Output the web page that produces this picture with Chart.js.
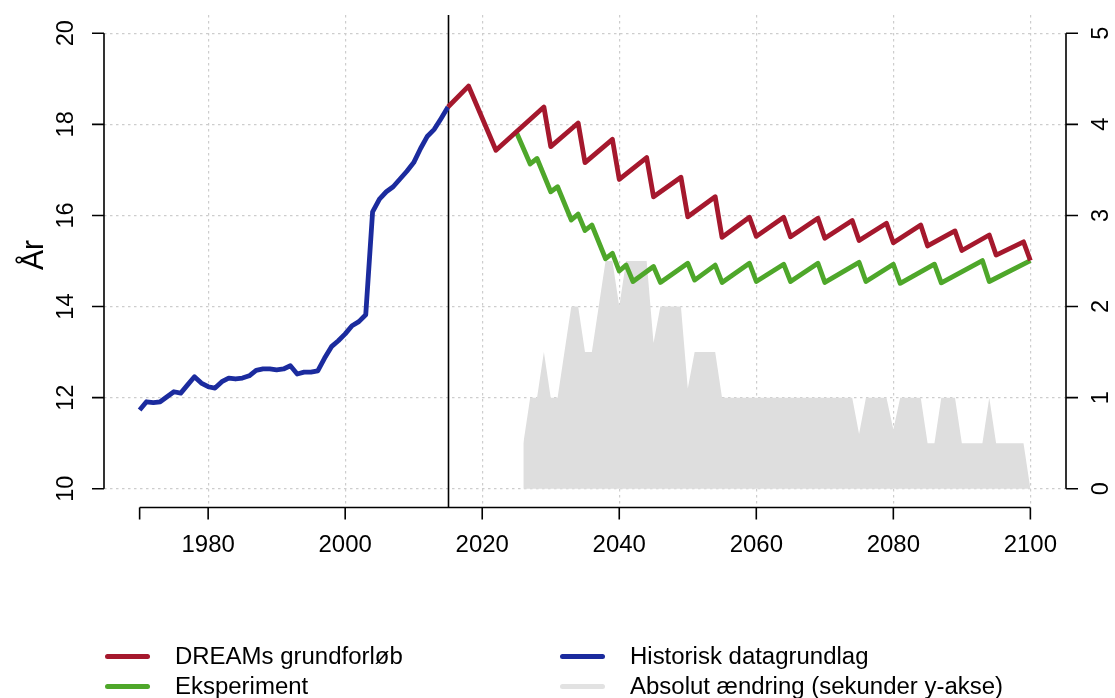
<!DOCTYPE html>
<html><head><meta charset="utf-8">
<script src="https://cdn.jsdelivr.net/npm/chart.js@4.4.1/dist/chart.umd.min.js"></script>
<style>
html,body{margin:0;padding:0;background:#fff;}
#wrap{position:relative;width:1115px;height:698px;overflow:hidden;background:#fff;}
canvas{position:absolute;left:0;top:0;}
.sw{position:absolute;height:5px;width:45px;border-radius:2.5px;}
.lt{position:absolute;font-family:"Liberation Sans",Arial,sans-serif;font-size:23.5px;line-height:30px;white-space:nowrap;color:#000;transform-origin:0 50%;transform:scaleX(1.02);}
</style></head>
<body>
<div id="wrap">
<canvas id="c" width="1115" height="698"></canvas>
<div id="legend"></div>
</div>
<script>
// ---------- data ----------
const histYears = [1970,1971,1972,1973,1974,1975,1976,1977,1978,1979,1980,1981,1982,1983,1984,1985,1986,1987,1988,1989,1990,1991,1992,1993,1994,1995,1996,1997,1998,1999,2000,2001,2002,2003,2004,2005,2006,2007,2008,2009,2010,2011,2012,2013,2014,2015];
const histValues = [11.73,11.91,11.89,11.91,12.02,12.13,12.10,12.28,12.46,12.32,12.24,12.21,12.35,12.43,12.41,12.43,12.48,12.60,12.63,12.63,12.61,12.63,12.70,12.52,12.56,12.56,12.59,12.87,13.12,13.25,13.40,13.58,13.67,13.82,16.08,16.36,16.52,16.63,16.80,16.97,17.16,17.47,17.74,17.89,18.13,18.38];

const baseYears = [2015,2018,2022,2029,2030,2034,2035,2039,2040,2044,2045,2049,2050,2054,2055,2059,2060,2064,2065,2069,2070,2074,2075,2079,2080,2084,2085,2089,2090,2094,2095,2099,2100];
const baseValues = [18.38,18.84,17.43,18.38,17.51,18.03,17.16,17.67,16.79,17.27,16.41,16.84,15.97,16.41,15.52,15.96,15.54,15.96,15.53,15.94,15.50,15.89,15.45,15.83,15.40,15.79,15.33,15.66,15.23,15.57,15.13,15.42,15.01];

const expYears = [2025,2027,2028,2030,2031,2033,2034,2035,2036,2038,2039,2040,2041,2042,2045,2046,2050,2051,2054,2055,2059,2060,2064,2065,2069,2070,2075,2076,2080,2081,2086,2087,2093,2094,2100];
const expValues = [17.82,17.13,17.25,16.52,16.63,15.90,16.03,15.67,15.79,15.05,15.17,14.78,14.91,14.55,14.88,14.53,14.95,14.58,14.91,14.53,14.95,14.55,14.93,14.55,14.95,14.53,14.97,14.55,14.93,14.51,14.93,14.52,15.01,14.55,15.01];

const changeYears = [2026,2027,2028,2029,2030,2031,2032,2033,2034,2035,2036,2037,2038,2039,2040,2041,2042,2043,2044,2045,2046,2047,2048,2049,2050,2051,2052,2053,2054,2055,2056,2057,2058,2059,2060,2061,2062,2063,2064,2065,2066,2067,2068,2069,2070,2071,2072,2073,2074,2075,2076,2077,2078,2079,2080,2081,2082,2083,2084,2085,2086,2087,2088,2089,2090,2091,2092,2093,2094,2095,2096,2097,2098,2099,2100];
const changeValues = [0.5,1.0,1.0,1.5,1.0,1.0,1.5,2.0,2.0,1.5,1.5,2.0,2.5,2.5,2.0,2.5,2.5,2.5,2.5,1.6,2.0,2.0,2.0,2.0,1.1,1.5,1.5,1.5,1.5,1.0,1.0,1.0,1.0,1.0,1.0,1.0,1.0,1.0,1.0,1.0,1.0,1.0,1.0,1.0,1.0,1.0,1.0,1.0,1.0,0.6,1.0,1.0,1.0,1.0,0.65,1.0,1.0,1.0,1.0,0.5,0.5,1.0,1.0,1.0,0.5,0.5,0.5,0.5,1.0,0.5,0.5,0.5,0.5,0.5,0.0];

const xTicks = [1970,1980,2000,2020,2040,2060,2080,2100];
const xLabelled = [1980,2000,2020,2040,2060,2080,2100];
const leftTicks = [10,12,14,16,18,20];
const rightTicks = [0,1,2,3,4,5];
const dividerYear = 2015;
const yTitle = 'År';
const seriesNames = ['DREAMs grundforløb','Historisk datagrundlag','Eksperiment','Absolut ændring (sekunder y-akse)'];

// ---------- styles ----------
const C_RED = '#A5182D', C_GREEN = '#4EA72A', C_BLUE = '#1B2B9E', C_GRAY = '#DEDEDE', C_GRAYLEG = '#E2E2E2';
const GRID = '#CDCDCD';
const FONT = '"Liberation Sans", Arial, sans-serif';
const SX = 1.02;

const pts = (xs, ys) => xs.map((x, i) => ({x, y: ys[i]}));

function stretchedText(ctx, txt, x, y, rot, size) {
  ctx.save();
  ctx.translate(x, y);
  ctx.scale(SX, 1);
  if (rot) ctx.rotate(rot);
  ctx.font = size + 'px ' + FONT;
  ctx.textAlign = 'center';
  ctx.textBaseline = 'middle';
  ctx.fillText(txt, 0, 0);
  ctx.restore();
}

const rAxes = {
  id: 'rAxes',
  beforeDatasetsDraw(chart) {
    const {ctx, chartArea: a, scales: {x}} = chart;
    const px = Math.round(x.getPixelForValue(dividerYear)) + 0.5;
    ctx.save();
    ctx.strokeStyle = '#000'; ctx.lineWidth = 1.6;
    ctx.beginPath(); ctx.moveTo(px, a.top); ctx.lineTo(px, a.bottom); ctx.stroke();
    ctx.restore();
  },
  afterDraw(chart) {
    const {ctx, chartArea: a, scales: {x, y, y2}} = chart;
    ctx.save();
    ctx.strokeStyle = '#000'; ctx.fillStyle = '#000'; ctx.lineWidth = 1.6;
    const TL = 12;
    // bottom axis
    const by = a.bottom + 0.5;
    ctx.beginPath();
    ctx.moveTo(x.getPixelForValue(xTicks[0]), by);
    ctx.lineTo(x.getPixelForValue(xTicks[xTicks.length - 1]), by);
    xTicks.forEach(v => { const p = x.getPixelForValue(v); ctx.moveTo(p, by); ctx.lineTo(p, by + TL); });
    // left axis
    const lx = a.left;
    ctx.moveTo(lx, y.getPixelForValue(leftTicks[0]));
    ctx.lineTo(lx, y.getPixelForValue(leftTicks[leftTicks.length - 1]));
    leftTicks.forEach(v => { const p = y.getPixelForValue(v); ctx.moveTo(lx, p); ctx.lineTo(lx - TL, p); });
    // right axis
    const rx = a.right;
    ctx.moveTo(rx, y2.getPixelForValue(rightTicks[0]));
    ctx.lineTo(rx, y2.getPixelForValue(rightTicks[rightTicks.length - 1]));
    rightTicks.forEach(v => { const p = y2.getPixelForValue(v); ctx.moveTo(rx, p); ctx.lineTo(rx + TL, p); });
    ctx.stroke();
    // labels
    xLabelled.forEach(v => stretchedText(ctx, String(v), x.getPixelForValue(v), by + 38, 0, 23.5));
    leftTicks.forEach(v => stretchedText(ctx, String(v), lx - 38, y.getPixelForValue(v), -Math.PI / 2, 23.5));
    rightTicks.forEach(v => stretchedText(ctx, String(v), rx + 35, y2.getPixelForValue(v), -Math.PI / 2, 23.5));
    stretchedText(ctx, yTitle, 35, 255, -Math.PI / 2, 30);
    ctx.restore();
  }
};

const dash = [2.5, 3.5];
const chart = new Chart(document.getElementById('c'), {
  type: 'line',
  data: {
    datasets: [
      {label: seriesNames[3], data: pts(changeYears, changeValues), yAxisID: 'y2', borderWidth: 0, borderColor: 'rgba(0,0,0,0)', backgroundColor: C_GRAY, fill: 'origin', pointRadius: 0, order: 5},
      {label: seriesNames[1], data: pts(histYears, histValues), yAxisID: 'y', borderColor: C_BLUE, borderWidth: 4.8, pointRadius: 0, fill: false, order: 3},
      {label: seriesNames[2], data: pts(expYears, expValues), yAxisID: 'y', borderColor: C_GREEN, borderWidth: 4.8, pointRadius: 0, fill: false, order: 2},
      {label: seriesNames[0], data: pts(baseYears, baseValues), yAxisID: 'y', borderColor: C_RED, borderWidth: 4.8, pointRadius: 0, fill: false, order: 1}
    ]
  },
  options: {
    responsive: false,
    devicePixelRatio: 1,
    animation: false,
    events: [],
    layout: {padding: {top: 15, left: 0, right: 0, bottom: 0}},
    elements: {line: {tension: 0, borderJoinStyle: 'round', borderCapStyle: 'butt'}},
    plugins: {legend: {display: false}, tooltip: {enabled: false}},
    scales: {
      x: {
        type: 'linear', position: 'bottom', min: 1964.8, max: 2105.2,
        afterBuildTicks: s => { s.ticks = xTicks.map(v => ({value: v})); },
        afterFit: s => { s.height = 191; },
        ticks: {display: false},
        grid: {color: c => (c.tick && c.tick.value === xTicks[0]) ? 'rgba(0,0,0,0)' : GRID, lineWidth: 1.2, drawTicks: false, borderDash: dash},
        border: {display: false, dash: dash}
      },
      y: {
        type: 'linear', position: 'left', min: 9.6, max: 20.4,
        afterBuildTicks: s => { s.ticks = leftTicks.map(v => ({value: v})); },
        afterFit: s => { s.width = 104; },
        ticks: {display: false},
        grid: {color: GRID, lineWidth: 1.2, drawTicks: false, borderDash: dash},
        border: {display: false, dash: dash}
      },
      y2: {
        type: 'linear', position: 'right', min: -0.2, max: 5.2,
        afterBuildTicks: s => { s.ticks = rightTicks.map(v => ({value: v})); },
        afterFit: s => { s.width = 49; },
        ticks: {display: false},
        grid: {display: false, drawTicks: false},
        border: {display: false}
      }
    }
  },
  plugins: [rAxes]
});

// ---------- legend (HTML text) ----------
const legendItems = [
  {name: seriesNames[0], color: C_RED, col: 0, row: 0},
  {name: seriesNames[1], color: C_BLUE, col: 1, row: 0},
  {name: seriesNames[2], color: C_GREEN, col: 0, row: 1},
  {name: seriesNames[3], color: C_GRAYLEG, col: 1, row: 1}
];
const colX = [105, 560], rowY = [656, 686];
const lg = document.getElementById('legend');
legendItems.forEach(it => {
  const sw = document.createElement('div');
  sw.className = 'sw';
  sw.style.left = colX[it.col] + 'px';
  sw.style.top = (rowY[it.row] - 2.5) + 'px';
  sw.style.background = it.color;
  lg.appendChild(sw);
  const t = document.createElement('div');
  t.className = 'lt';
  t.textContent = it.name;
  t.style.left = (colX[it.col] + 70) + 'px';
  t.style.top = (rowY[it.row] - 15) + 'px';
  lg.appendChild(t);
});
</script>
</body></html>
